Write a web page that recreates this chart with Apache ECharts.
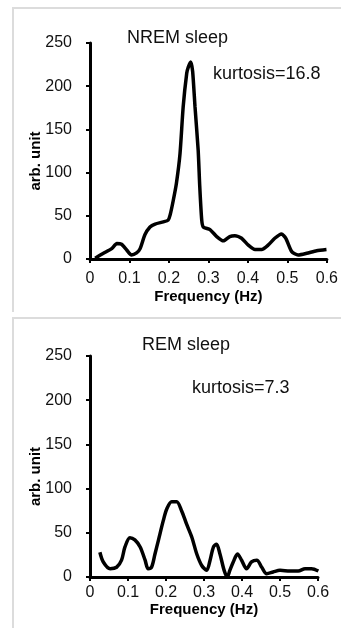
<!DOCTYPE html>
<html>
<head>
<meta charset="utf-8">
<script src="https://cdn.jsdelivr.net/npm/echarts@6/dist/echarts.min.js"></script>
<style>
  html, body { margin: 0; padding: 0; background: #fff; }
  #chart { width: 341px; height: 628px; }
</style>
</head>
<body>
<div id="chart"></div>
<script>
// NREM sleep spectrum (Hz, arb. unit)
var nremFreq = [0.013, 0.034, 0.055, 0.068, 0.08, 0.093, 0.105, 0.118, 0.127, 0.139, 0.152, 0.165, 0.186, 0.198,
  0.203, 0.211, 0.219, 0.228, 0.236, 0.245, 0.249, 0.255, 0.26, 0.266, 0.274, 0.278, 0.283, 0.287, 0.304, 0.321,
  0.338, 0.354, 0.367, 0.384, 0.401, 0.418, 0.435, 0.451, 0.468, 0.485, 0.496, 0.511, 0.527, 0.549, 0.574, 0.599]
var nremPower = [1, 6.6, 12, 18, 17, 10.4, 4.6, 7, 12, 28, 37, 40.5, 43, 45,
  51, 68, 88, 122, 176, 215, 222, 228, 217, 176, 126, 84, 45, 37, 34, 26,
  21, 26, 27, 24, 16, 11, 11, 16, 24, 29, 24, 8.5, 4.6, 6.6, 9.6, 11]

// REM sleep spectrum
var remFreq = [0.026, 0.035, 0.053, 0.07, 0.083, 0.092, 0.105, 0.118, 0.132, 0.145, 0.153, 0.162, 0.171, 0.18,
  0.193, 0.202, 0.215, 0.228, 0.241, 0.254, 0.268, 0.281, 0.294, 0.307, 0.316, 0.325, 0.333, 0.342, 0.353, 0.361,
  0.368, 0.377, 0.388, 0.399, 0.412, 0.425, 0.439, 0.452, 0.465, 0.482, 0.5, 0.526, 0.548, 0.566, 0.583, 0.601]
var remPower = [28, 17, 9.4, 11, 19, 34, 44.5, 42, 34, 19, 9.4, 11, 26, 41.5,
  64, 77, 85, 85, 75, 60, 45, 26, 13, 7.5, 19, 34, 37, 26, 7.5, 0,
  7.5, 17, 26, 19, 9.4, 17, 19, 11, 3.8, 5.7, 7.5, 6.8, 6.8, 9.4, 9.4, 6.8]

var panelTitles = ['NREM sleep', 'REM sleep']
var kurtosisLabels = ['kurtosis=16.8', 'kurtosis=7.3']
var xTitle = 'Frequency (Hz)'
var yTitle = 'arb. unit'

function pairs (xs, ys) {
  return xs.map(function (x, i) { return [x, ys[i]] })
}

var font = 'Liberation Sans, Arial, sans-serif'

function xAxisFor (gridIndex, nameGap, labelMargin) {
  return {
    gridIndex: gridIndex,
    type: 'value',
    min: 0,
    max: 0.6,
    interval: 0.1,
    name: xTitle,
    nameLocation: 'middle',
    nameGap: nameGap,
    nameTextStyle: { fontFamily: font, fontSize: 15, fontWeight: 'bold', color: '#000' },
    axisLine: { lineStyle: { color: '#000', width: 3 } },
    axisTick: { length: 4, lineStyle: { color: '#000', width: 2 } },
    axisLabel: { fontFamily: font, fontSize: 16, color: '#111', margin: labelMargin,
      formatter: function (v) { return v === 0 ? '0' : v.toFixed(1) } },
    splitLine: { show: false }
  }
}

function yAxisFor (gridIndex) {
  return {
    gridIndex: gridIndex,
    type: 'value',
    min: 0,
    max: 250,
    interval: 50,
    name: yTitle,
    nameLocation: 'middle',
    nameGap: 47,
    nameMoveOverlap: false,
    nameTextStyle: { fontFamily: font, fontSize: 15, fontWeight: 'bold', color: '#000', padding: [0, 20, 0, 0] },
    axisLine: { show: true, lineStyle: { color: '#000', width: 3 } },
    axisTick: { show: true, length: 4, lineStyle: { color: '#000', width: 2 } },
    axisLabel: { fontFamily: font, fontSize: 16, color: '#111', margin: 18 },
    splitLine: { show: false }
  }
}

var myChart = echarts.init(document.getElementById('chart'))

var titleStyle = { fontFamily: font, fontSize: 18, fontWeight: 'normal', color: '#111' }

var option = {
  backgroundColor: '#fff',
  animation: false,
  title: [
    { text: panelTitles[0], left: 127, top: 29, padding: 0, textStyle: titleStyle },
    { text: kurtosisLabels[0], left: 213, top: 65, padding: 0, textStyle: titleStyle },
    { text: panelTitles[1], left: 142, top: 336, padding: 0, textStyle: titleStyle },
    { text: kurtosisLabels[1], left: 192, top: 379, padding: 0, textStyle: titleStyle }
  ],
  graphic: [
    { type: 'polyline', shape: { points: [[13, 312], [13, 8], [341, 8]] }, style: { stroke: '#dcdcdc', lineWidth: 2, fill: null } },
    { type: 'polyline', shape: { points: [[13, 628], [13, 318], [341, 318]] }, style: { stroke: '#dcdcdc', lineWidth: 2, fill: null } }
  ],
  grid: [
    { left: 90, top: 43, width: 237, height: 216 },
    { left: 90, top: 356, width: 228, height: 221 }
  ],
  xAxis: [xAxisFor(0, 30, 12), xAxisFor(1, 25, 8)],
  yAxis: [yAxisFor(0), yAxisFor(1)],
  series: [
    {
      name: panelTitles[0],
      type: 'line',
      xAxisIndex: 0,
      yAxisIndex: 0,
      showSymbol: false,
      smooth: 0.2,
      lineStyle: { color: '#000', width: 3.5 },
      data: pairs(nremFreq, nremPower)
    },
    {
      name: panelTitles[1],
      type: 'line',
      xAxisIndex: 1,
      yAxisIndex: 1,
      showSymbol: false,
      smooth: 0.3,
      lineStyle: { color: '#000', width: 3.5 },
      data: pairs(remFreq, remPower)
    }
  ]
}

myChart.setOption(option)
</script>
</body>
</html>
